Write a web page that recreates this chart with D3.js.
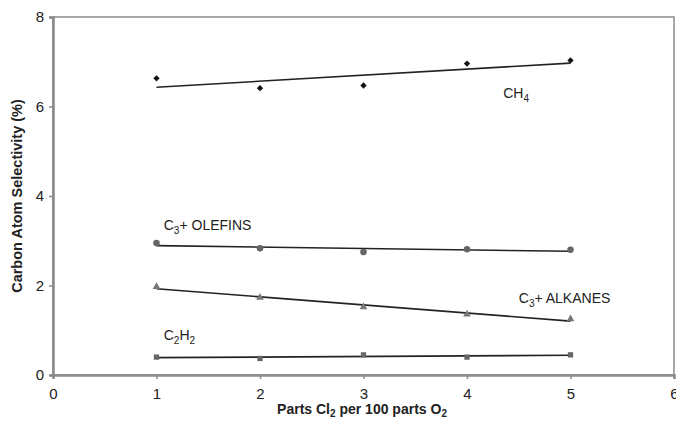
<!DOCTYPE html>
<html>
<head>
<meta charset="utf-8">
<script src="https://cdn.jsdelivr.net/npm/d3@7"></script>
<style>
  body { margin: 0; background: #fff; }
  text { font-family: "Liberation Sans", Arial, sans-serif; }
</style>
</head>
<body>
<svg width="676" height="423"></svg>
<script>
// data
const xValues = [1, 2, 3, 4, 5];
const ch4 = [6.63, 6.41, 6.47, 6.96, 7.03];
const olefins = [2.95, 2.83, 2.75, 2.81, 2.80];
const alkanes = [1.97, 1.73, 1.52, 1.36, 1.25];
const c2h2 = [0.40, 0.37, 0.45, 0.40, 0.45];
const xTicks = [0, 1, 2, 3, 4, 5, 6];
const yTicks = [0, 2, 4, 6, 8];

const svg = d3.select('svg');

const x = d3.scaleLinear().domain([0, 6]).range([53, 674]);
const y = d3.scaleLinear().domain([0, 8]).range([375, 17]);

const axisColor = '#8a8a8a';

// plot frame
svg.append('rect')
  .attr('x', x(0)).attr('y', y(8))
  .attr('width', x(6) - x(0)).attr('height', y(0) - y(8))
  .attr('fill', 'none').attr('stroke', axisColor).attr('stroke-width', 1.5);

// axes
const xAxis = svg.append('g')
  .attr('transform', `translate(0,${y(0)})`)
  .call(d3.axisBottom(x).tickValues(xTicks).tickSize(4).tickPadding(9).tickFormat(d3.format('d')));
const yAxis = svg.append('g')
  .attr('transform', `translate(${x(0)},0)`)
  .call(d3.axisLeft(y).tickValues(yTicks).tickSize(4).tickPadding(5).tickFormat(d3.format('d')));

[xAxis, yAxis].forEach(a => {
  a.select('.domain').attr('stroke', axisColor).attr('stroke-width', 2.5);
  a.selectAll('.tick line').attr('stroke', axisColor).attr('stroke-width', 1.5);
  a.selectAll('.tick text').attr('fill', '#222').style('font-size', '15px');
});

// linear fit for trend lines
function fit(ys) {
  const mx = d3.mean(xValues), my = d3.mean(ys);
  const b = d3.sum(xValues, (v, i) => (v - mx) * (ys[i] - my)) / d3.sum(xValues, v => (v - mx) ** 2);
  return v => my + b * (v - mx);
}

const series = [
  { values: ch4, symbol: d3.symbolSquare, rotate: 45, color: '#111', size: 20 },
  { values: olefins, symbol: d3.symbolCircle, rotate: 0, color: '#666', size: 34 },
  { values: alkanes, symbol: d3.symbolTriangle, rotate: 0, color: '#777', size: 26 },
  { values: c2h2, symbol: d3.symbolSquare, rotate: 0, color: '#666', size: 28 }
];

const line = d3.line().x(d => x(d[0])).y(d => y(d[1]));

series.forEach(s => {
  const f = fit(s.values);
  svg.append('path')
    .attr('d', line([[1, f(1)], [5, f(5)]]))
    .attr('fill', 'none').attr('stroke', '#222').attr('stroke-width', 1.6);
  svg.append('g').selectAll('path')
    .data(s.values)
    .join('path')
    .attr('transform', (d, i) => `translate(${x(xValues[i])},${y(d)}) rotate(${s.rotate})`)
    .attr('d', d3.symbol().type(s.symbol).size(s.size))
    .attr('fill', s.color);
});

// series labels
function label(px, py, parts) {
  const t = svg.append('text')
    .attr('x', px).attr('y', py)
    .attr('fill', '#222').style('font-size', '14px');
  parts.forEach(p => {
    const ts = t.append('tspan').text(p[0]);
    if (p[1]) ts.attr('baseline-shift', '-4').style('font-size', '10px');
  });
}
label(x(4.35), y(6.2), [['CH'], ['4', 1]]);
label(x(1.07), y(3.25), [['C'], ['3', 1], ['+ OLEFINS']]);
label(x(4.5), y(1.6), [['C'], ['3', 1], ['+ ALKANES']]);
label(x(1.07), y(0.78), [['C'], ['2', 1], ['H'], ['2', 1]]);

// axis titles
const xt = svg.append('text')
  .attr('x', 362).attr('y', 414)
  .attr('text-anchor', 'middle')
  .style('font-size', '14px').style('font-weight', 'bold').attr('fill', '#222');
xt.append('tspan').text('Parts Cl');
xt.append('tspan').text('2').attr('baseline-shift', '-3').style('font-size', '10px');
xt.append('tspan').text(' per 100 parts O');
xt.append('tspan').text('2').attr('baseline-shift', '-3').style('font-size', '10px');

svg.append('text')
  .attr('transform', `translate(22,${(y(0) + y(8)) / 2}) rotate(-90)`)
  .attr('text-anchor', 'middle')
  .style('font-size', '14.5px').style('font-weight', 'bold').attr('fill', '#222')
  .text('Carbon Atom Selectivity (%)');
</script>
</body>
</html>
